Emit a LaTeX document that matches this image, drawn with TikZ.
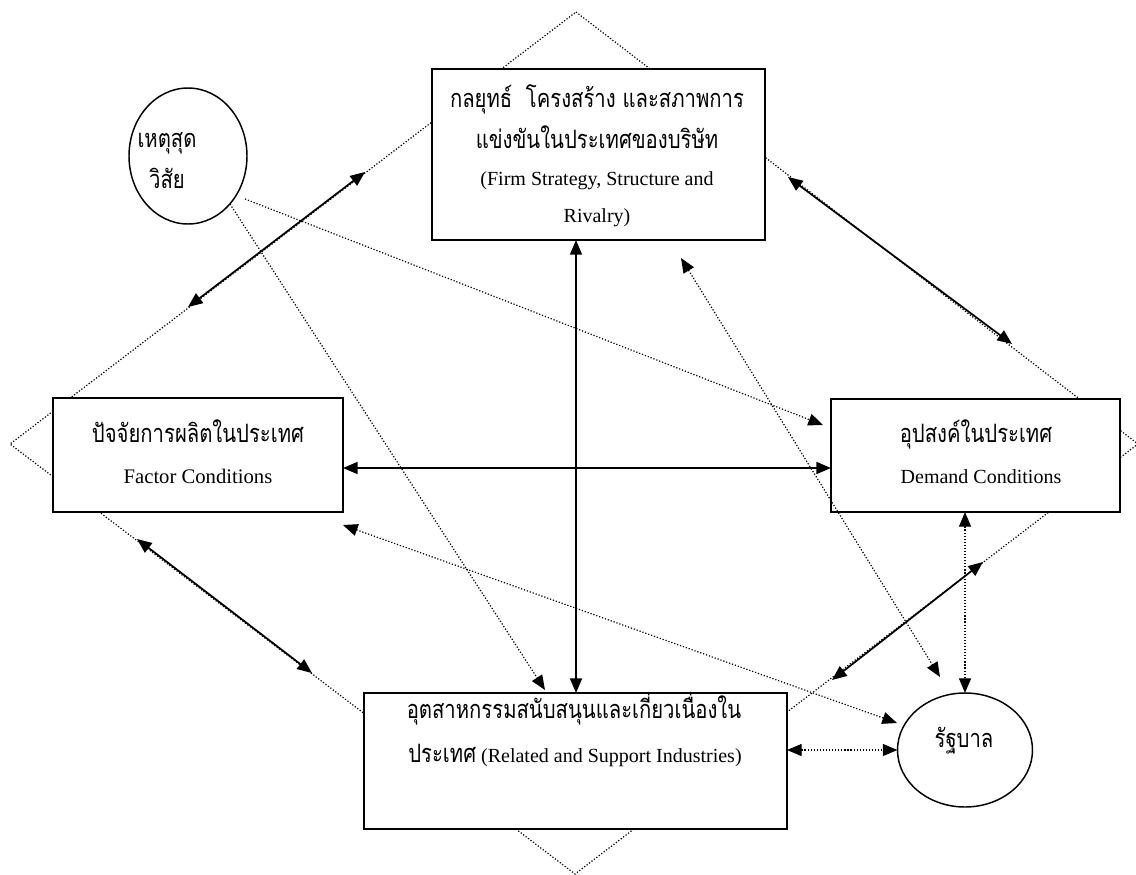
\documentclass[tikz,border=0pt]{standalone}
\usepackage{fontspec}
\setmainfont{Liberation Serif}
\newfontfamily\thai[Script=Thai,FakeStretch=0.8]{Loma}
\usetikzlibrary{arrows.meta,shapes.geometric}
\tikzset{
  box/.style={draw, line width=1.3pt, fill=white, inner sep=0pt, outer sep=0pt},
  oval/.style={draw, ellipse, line width=1.1pt, fill=white, inner sep=0pt, outer sep=0pt},
  thtxt/.style={font=\thai\fontsize{19}{22}\selectfont, anchor=base, inner sep=0pt},
  entxt/.style={font=\fontsize{15}{18}\selectfont, anchor=base, inner sep=0pt},
  tip/.tip={Triangle[length=11pt,width=9pt]},
  link/.style={line width=1.3pt, tip-tip},
  dotlink/.style={line width=0.9pt, dash pattern=on 0.9pt off 1.4pt, tip-tip},
  dotone/.style={line width=0.9pt, dash pattern=on 0.9pt off 1.4pt, -tip},
  frame/.style={line width=0.9pt, dash pattern=on 0.9pt off 1.4pt}
}
\begin{document}
\begin{tikzpicture}[x=0.75pt,y=-0.75pt]
\clip (0,0) rectangle (1136,875);
\fill[white] (0,0) rectangle (1136,875);
% diamond frame
\coordinate (dT) at (576,12);
\coordinate (dL) at (10,444);
\coordinate (dB) at (575,874);
\coordinate (dR) at (1138,444);
\draw[frame] (dT) -- (dR) -- (dB) -- (dL) -- cycle;
% boxes
\node[box, minimum width=249.75pt, minimum height=128.25pt] (firm) at (598.5,154.5) {};
\node[box, minimum width=217.5pt, minimum height=85.5pt] (fac) at (198,455) {};
\node[box, minimum width=216.75pt, minimum height=84.75pt] (dem) at (975.5,455.5) {};
\node[box, minimum width=317.25pt, minimum height=102pt] (rel) at (575.5,761) {};
\node[oval, minimum width=88.5pt, minimum height=102pt] (chance) at (188,156) {};
\node[oval, minimum width=101.25pt, minimum height=85.5pt] (gov) at (965,750) {};
% texts
\node[thtxt] (f1) at (597,107) {กลยุทธ์\ \ โครงสร้าง และสภาพการ};
\node[thtxt] (f2) at (597,148) {แข่งขันในประเทศของบริษัท};
\node[entxt] (f3) at (597,185) {(Firm Strategy, Structure and};
\node[entxt] (f4) at (597,222) {Rivalry)};
\node[thtxt] (fa1) at (198,442) {ปัจจัยการผลิตในประเทศ};
\node[entxt, font=\fontsize{15.5}{18}\selectfont] (fa2) at (198,483) {Factor Conditions};
\node[thtxt] (de1) at (976,442) {อุปสงค์ในประเทศ};
\node[entxt] (de2) at (981,483) {Demand Conditions};
\node[thtxt] (r1) at (574,718) {อุตสาหกรรมสนับสนุนและเกี่ยวเนื่องใน};
\node[entxt] (r2) at (575,762) {{\thai\fontsize{19}{22}\selectfont ประเทศ} (Related and Support Industries)};
\node[thtxt] (c1) at (167,147) {เหตุสุด};
\node[thtxt] (c2) at (167,188) {วิสัย};
\node[thtxt] (g1) at (964,747) {รัฐบาล};
% solid diagonal links along the frame
\coordinate (a1) at (188,307);
\coordinate (a2) at (365,172);
\coordinate (b1) at (788,177);
\coordinate (b2) at (1012,344);
\coordinate (c1p) at (137,539);
\coordinate (c2p) at (312,673);
\coordinate (d1) at (832,680);
\coordinate (d2) at (983,562);
\draw[link] (a1) -- (a2);
\draw[link] (b1) -- (b2);
\draw[link] (c1p) -- (c2p);
\draw[link] (d1) -- (d2);
% straight solid links
\coordinate (h) at (0,468);
\coordinate (v) at (576,0);
\draw[link] (fac.east |- h) -- (dem.west |- h);
\draw[link] (firm.south -| v) -- (rel.north -| v);
% dotted links
\coordinate (ch1) at (245,199);
\coordinate (ch1e) at (823,425);
\coordinate (ch2) at (230,204);
\coordinate (ch2e) at (545,690);
\draw[dotone] (ch1) -- (ch1e);
\draw[dotone] (ch2) -- (ch2e);
\coordinate (gf1) at (681,258);
\coordinate (gf2) at (940,677);
\draw[dotlink] (gf1) -- (gf2);
\coordinate (gfa1) at (343,525);
\coordinate (gfa2) at (897,723);
\draw[dotlink] (gfa1) -- (gfa2);
\draw[dotlink] (dem.south -| gov) -- (gov.north);
\draw[dotlink] (gov.west -| rel.east) -- (gov.west);
\end{tikzpicture}
\end{document}
